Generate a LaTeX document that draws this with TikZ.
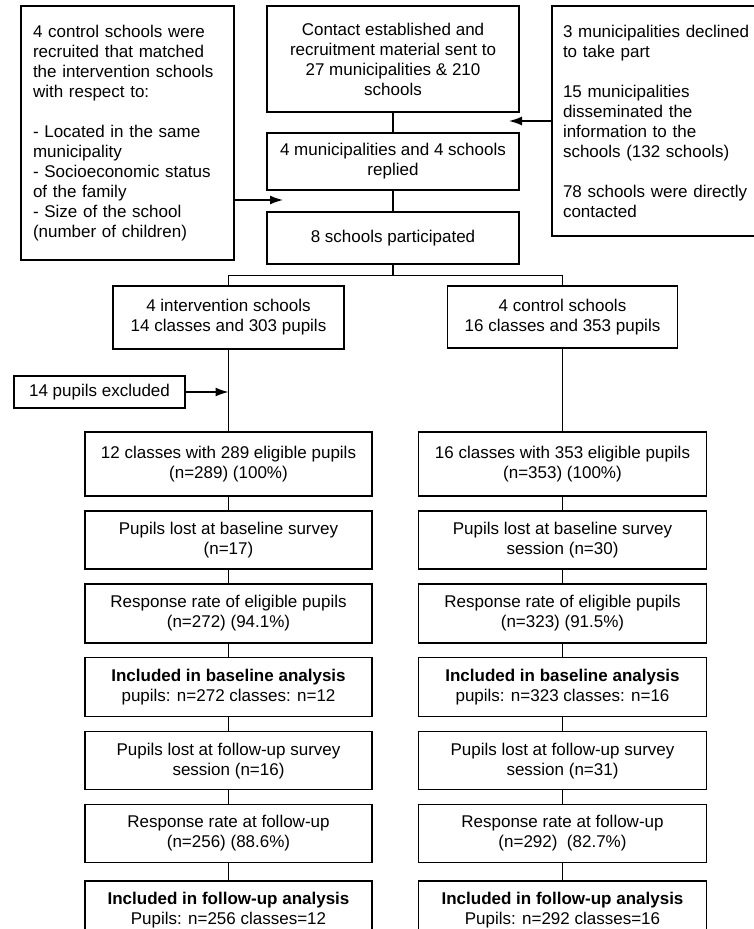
\documentclass[tikz,border=0pt]{standalone}
\usepackage{fontspec}
\setmainfont{Liberation Sans}
\usetikzlibrary{positioning,arrows.meta}

\begin{document}
\begin{tikzpicture}[%
  x=1pt,
  y=-1pt,
  line width=1.4pt,
  >={Latex[length=13pt,width=9pt]},
  font=\fontsize{17}{20}\selectfont,
  node distance=13.5pt,
  box/.style={
    draw,
    align=center,
    inner sep=0pt,},
  colbox/.style={
    box,
    minimum width=287pt,
    minimum height=58pt,},
  sidebox/.style={
    draw,
    align=left,
    inner xsep=11pt,
    inner ysep=0pt,},
  pil/.style={
    ->,}
  ]
  \useasboundingbox (0,0) rectangle (753,929);
  %% Nodes
  \node[sidebox, text width=189pt, inner xsep=12pt, minimum height=254pt] (recruit) at (127.5,133)
    {4 control schools were\\recruited that matched\\the intervention schools\\with respect to:\\[20pt]- Located in the same\\municipality\\- Socioeconomic status\\of the family\\- Size of the school\\(number of children)};
  \node[box, minimum width=252pt, minimum height=106pt] (contact) at (393,59)
    {Contact established and\\recruitment material sent to\\27 municipalities \& 210\\schools};
  \node[box, minimum width=252pt, minimum height=57pt] (replied) at (393,161.5)
    {4 municipalities and 4 schools\\replied};
  \node[box, minimum width=252pt, minimum height=52pt] (participated) at (393,238)
    {8 schools participated};
  \node[sidebox, text width=200pt, minimum height=230pt] (declined) at (663,121)
    {3 municipalities declined\\to take part\\[20pt]15 municipalities\\disseminated the\\information to the\\schools (132 schools)\\[20pt]78 schools were directly\\contacted};
  \coordinate (declinedtip) at (509,121);
  \coordinate (matchtip) at (283,200);
  %% Intervention arm
  \node[box, minimum width=231pt, minimum height=63pt] (interv) at (228.5,317.5)
    {4 intervention schools\\14 classes and 303 pupils};
  \node[box, minimum width=171pt, minimum height=32pt] (excluded) at (99.5,392)
    {14 pupils excluded};
  \node[colbox, minimum height=64pt] (eligL) at (228.5,464)
    {12 classes with 289 eligible pupils\\(n=289) (100\%)};
  \node[colbox, below=of eligL] (lostbL)
    {Pupils lost at baseline survey\\(n=17)};
  \node[colbox, minimum height=59pt, below=of lostbL] (respbL)
    {Response rate of eligible pupils\\(n=272) (94.1\%)};
  \node[colbox, minimum height=59pt, below=of respbL] (inclbL)
    {\textbf{Included in baseline analysis}\\pupils: n=272 classes: n=12};
  \node[colbox, below=of inclbL] (lostfL)
    {Pupils lost at follow-up survey\\session (n=16)};
  \node[colbox, below=of lostfL] (respfL)
    {Response rate at follow-up\\(n=256) (88.6\%)};
  \node[colbox, below=17pt of respfL] (inclfL)
    {\textbf{Included in follow-up analysis}\\Pupils: n=256 classes=12};
  %% Control arm
  \node[box, minimum width=230pt, minimum height=62pt] (control) at (562.5,317)
    {4 control schools\\16 classes and 353 pupils};
  \node[colbox, minimum width=288pt, minimum height=64pt] (eligR) at (562.5,464)
    {16 classes with 353 eligible pupils\\(n=353) (100\%)};
  \node[colbox, minimum width=288pt, below=of eligR] (lostbR)
    {Pupils lost at baseline survey\\session (n=30)};
  \node[colbox, minimum width=288pt, minimum height=59pt, below=of lostbR] (respbR)
    {Response rate of eligible pupils\\(n=323) (91.5\%)};
  \node[colbox, minimum width=288pt, minimum height=59pt, below=of respbR] (inclbR)
    {\textbf{Included in baseline analysis}\\pupils: n=323 classes: n=16};
  \node[colbox, minimum width=288pt, below=of inclbR] (lostfR)
    {Pupils lost at follow-up survey\\session (n=31)};
  \node[colbox, minimum width=288pt, below=of lostfR] (respfR)
    {Response rate at follow-up\\(n=292)~~(82.7\%)};
  \node[colbox, minimum width=288pt, below=17pt of respfR] (inclfR)
    {\textbf{Included in follow-up analysis}\\Pupils: n=292 classes=16};
  %% Edges
  \draw (contact) -- (replied);
  \draw (replied) -- (participated);
  \draw (participated.south) -- ++(0,11) coordinate (split);
  \draw (split) -| (interv.north);
  \draw (split) -| (control.north);
  \draw[pil] (declined.west) -- (declinedtip);
  \draw[pil] (recruit.east |- matchtip) -- (matchtip);
  \draw (interv) -- (eligL);
  \draw[pil] (excluded.east) -- (excluded.east -| interv.south);
  \draw (eligL) -- (lostbL);
  \draw (lostbL) -- (respbL);
  \draw (respbL) -- (inclbL);
  \draw (inclbL) -- (lostfL);
  \draw (lostfL) -- (respfL);
  \draw (respfL) -- (inclfL);
  \draw (control) -- (eligR);
  \draw (eligR) -- (lostbR);
  \draw (lostbR) -- (respbR);
  \draw (respbR) -- (inclbR);
  \draw (inclbR) -- (lostfR);
  \draw (lostfR) -- (respfR);
  \draw (respfR) -- (inclfR);
\end{tikzpicture}
\end{document}
